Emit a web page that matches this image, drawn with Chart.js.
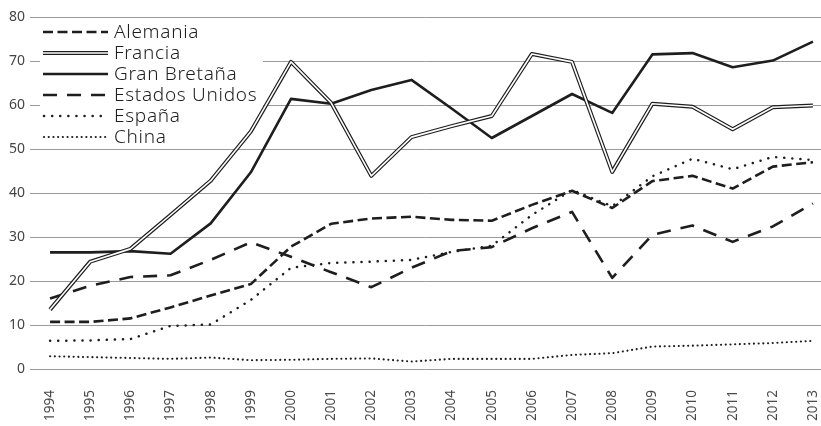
<!DOCTYPE html>
<html>
<head>
<meta charset="utf-8">
<script src="https://cdn.jsdelivr.net/npm/chart.js@4/dist/chart.umd.min.js"></script>
<style>
  body { margin: 0; background: #fff; }
  #grafico { display: block; }
</style>
</head>
<body>
<canvas id="grafico" width="821" height="426"></canvas>
<script>
// Años del eje X
var anios = [1994, 1995, 1996, 1997, 1998, 1999, 2000, 2001, 2002, 2003,
             2004, 2005, 2006, 2007, 2008, 2009, 2010, 2011, 2012, 2013];
// Marcas del eje Y
var marcasY = [0, 10, 20, 30, 40, 50, 60, 70, 80];

// Valores, uno por año
var alemania      = [10.7, 10.7, 11.5, 14.0, 16.7, 19.3, 27.8, 33.0, 34.2, 34.6, 33.9, 33.7, 37.3, 40.5, 36.6, 42.7, 43.9, 41.0, 46.0, 47.0];
var francia       = [13.5, 24.4, 27.3, 35.0, 42.8, 54.0, 69.8, 60.5, 43.9, 52.7, 55.2, 57.5, 71.6, 69.8, 44.8, 60.3, 59.6, 54.5, 59.5, 59.9];
var granBretana   = [26.5, 26.5, 26.8, 26.2, 33.1, 44.7, 61.4, 60.3, 63.4, 65.7, 59.2, 52.5, 57.5, 62.5, 58.2, 71.5, 71.8, 68.6, 70.1, 74.4];
var estadosUnidos = [16.0, 18.9, 20.9, 21.3, 24.8, 28.8, 25.5, 22.0, 18.6, 23.0, 26.8, 27.7, 32.0, 35.7, 20.7, 30.5, 32.6, 28.9, 32.4, 37.6];
var espana        = [6.4, 6.5, 6.8, 9.8, 10.1, 15.7, 23.0, 24.1, 24.4, 24.8, 26.6, 28.0, 35.0, 40.7, 37.0, 43.8, 47.8, 45.4, 48.2, 47.5];
var china         = [2.9, 2.7, 2.5, 2.3, 2.6, 2.0, 2.1, 2.3, 2.4, 1.7, 2.3, 2.3, 2.3, 3.2, 3.6, 5.1, 5.3, 5.6, 5.9, 6.4];

function puntos(valores){
    //Junta cada año con su valor
    return anios.map(function(a, i){ return {x: a, y: valores[i]}; });
}

// Estilo de cada serie (la leyenda usa lo mismo)
var series = [
    {label: 'Alemania',       data: alemania,      ancho: 2.6, guion: [10, 4.5], cap: 'butt'},
    {label: 'Francia',        data: francia,       ancho: 4,   guion: [],        cap: 'butt', doble: true},
    {label: 'Gran Bretaña',   data: granBretana,   ancho: 2.6, guion: [],        cap: 'butt'},
    {label: 'Estados Unidos', data: estadosUnidos, ancho: 2.6, guion: [14, 10],  cap: 'butt'},
    {label: 'España',         data: espana,        ancho: 2.5, guion: [0.1, 8],  cap: 'round'},
    {label: 'China',          data: china,         ancho: 2.1, guion: [0.1, 4.6], cap: 'round'}
];

var datasets = [];
series.forEach(function(s){
    datasets.push({
        label: s.label,
        data: puntos(s.data),
        borderColor: '#1e1e1e',
        borderWidth: s.ancho,
        borderDash: s.guion,
        borderCapStyle: s.cap,
        borderJoinStyle: 'round',
        pointRadius: 0,
        tension: 0,
        order: s.doble ? 2 : 3
    });
    if (s.doble) {
        //Linea blanca encima para hacer la linea doble
        datasets.push({
            label: '',
            data: puntos(s.data),
            borderColor: '#ffffff',
            borderWidth: 1.6,
            borderJoinStyle: 'round',
            pointRadius: 0,
            tension: 0,
            order: 1
        });
    }
});

// Leyenda dibujada dentro del area del grafico
var leyenda = {
    id: 'leyenda',
    beforeDatasetsDraw: function(chart){
        var ctx = chart.ctx;
        ctx.save();
        ctx.fillStyle = '#ffffff';
        ctx.fillRect(40, 22, 223, 124);
        series.forEach(function(s, i){
            var y = 32 + i * 21;
            ctx.beginPath();
            ctx.moveTo(s.cap === 'round' ? 44 : 43, y);
            ctx.lineTo(108, y);
            ctx.strokeStyle = '#1e1e1e';
            ctx.lineWidth = s.ancho;
            ctx.lineCap = s.cap;
            ctx.setLineDash(s.guion);
            ctx.stroke();
            if (s.doble) {
                ctx.beginPath();
                ctx.moveTo(43, y);
                ctx.lineTo(108, y);
                ctx.strokeStyle = '#ffffff';
                ctx.lineWidth = 1.6;
                ctx.stroke();
            }
            ctx.setLineDash([]);
            ctx.fillStyle = '#1e1e1e';
            ctx.font = '300 19px "Noto Sans"';
            ctx.letterSpacing = '0.7px';
            ctx.textBaseline = 'middle';
            ctx.fillText(s.label, 114, y + 1);
        });
        ctx.restore();
    }
};

var ctx = document.getElementById('grafico');
var grafico = new Chart(ctx, {
    type: 'line',
    data: {datasets: datasets},
    plugins: [leyenda],
    options: {
        responsive: false,
        animation: false,
        layout: {padding: {top: 17, left: 0, right: 0, bottom: 0}},
        plugins: {
            legend: {display: false},
            tooltip: {enabled: false}
        },
        scales: {
            x: {
                type: 'linear',
                min: 1993.5,
                max: 2013.2,
                afterBuildTicks: function(scale){
                    scale.ticks = anios.map(function(a){ return {value: a}; });
                },
                afterFit: function(scale){
                    scale.height = 57;
                    scale.paddingLeft = 0;
                    scale.paddingRight = 0;
                },
                grid: {display: false, drawTicks: false},
                border: {display: false},
                ticks: {
                    autoSkip: false,
                    minRotation: 90,
                    maxRotation: 90,
                    padding: 21,
                    color: '#4a4a4a',
                    font: {family: 'Noto Sans', size: 13.5},
                    callback: function(v){ return String(v); }
                }
            },
            y: {
                min: 0,
                max: 80,
                afterBuildTicks: function(scale){
                    scale.ticks = marcasY.map(function(m){ return {value: m}; });
                },
                afterFit: function(scale){ scale.width = 30; },
                grid: {color: '#9a9a9a', lineWidth: 1, drawTicks: false},
                border: {display: false},
                ticks: {
                    padding: 5,
                    color: '#444',
                    font: {family: 'Noto Sans', size: 14}
                }
            }
        }
    }
});
</script>
</body>
</html>
